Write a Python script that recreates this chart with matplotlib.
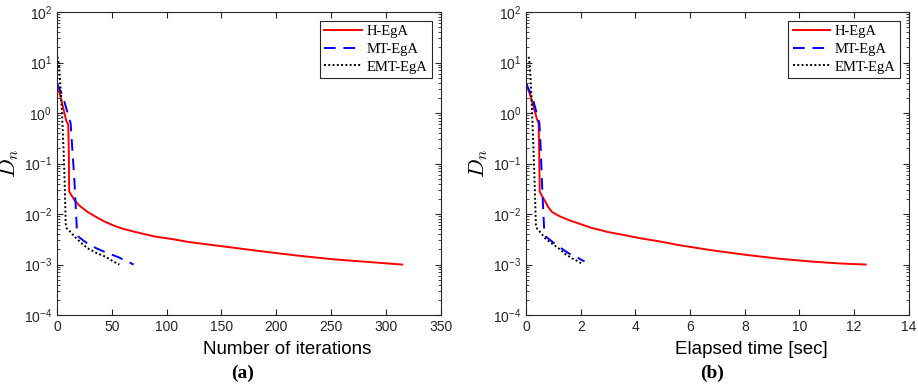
import numpy as np
import matplotlib.pyplot as plt
from matplotlib.ticker import LogLocator, NullFormatter

plt.rcParams['font.family'] = ['Liberation Sans', 'DejaVu Sans']
plt.rcParams['mathtext.fontset'] = 'cm'

# (a) convergence vs iterations
it_h = [0, 3, 6, 8.5, 10.3, 10.8, 11.2, 13, 16, 20, 28, 36, 44, 52, 59, 70, 89, 105, 120, 144, 165, 191, 220, 252, 285, 315]
dn_h = [3.9, 2.2, 1.2, 0.7, 0.6, 0.2, 0.028, 0.024, 0.019, 0.015, 0.011, 0.0087, 0.007, 0.0059, 0.0052, 0.0045, 0.0036, 0.0032, 0.0028, 0.0024, 0.0021, 0.00178, 0.0015, 0.00127, 0.00112, 0.001]
it_mt = [0, 5.5, 12.5, 14, 16, 17.6, 18.3, 19.5, 24, 28, 36, 43, 56, 70]
dn_mt = [3.9, 2.1, 0.63, 0.2, 0.045, 0.009, 0.0045, 0.0036, 0.003, 0.0026, 0.0021, 0.0018, 0.0014, 0.001]
it_emt = [0.5, 1.5, 3, 4.5, 6, 7, 8, 9, 12, 16, 22, 28, 36, 44, 50, 57]
dn_emt = [13, 10, 4, 1.2, 0.2, 0.047, 0.0065, 0.0052, 0.0045, 0.0036, 0.0027, 0.0021, 0.0017, 0.00144, 0.0012, 0.001]

# (b) convergence vs elapsed time
t_h = [0, 0.15, 0.3, 0.4, 0.46, 0.48, 0.5, 0.6, 0.71, 0.82, 0.95, 1.2, 1.56, 2.0, 2.41, 3.0, 3.63, 4.2, 4.84, 5.64, 6.85, 8.07, 9.29, 10.5, 11.5, 12.42]
dt_h = [3.9, 2.3, 1.2, 0.75, 0.63, 0.2, 0.028, 0.022, 0.0175, 0.0135, 0.011, 0.0092, 0.0076, 0.0063, 0.0053, 0.0044, 0.0038, 0.0033, 0.0029, 0.0024, 0.0019, 0.00155, 0.0013, 0.00114, 0.00105, 0.001]
t_mt = [0, 0.24, 0.49, 0.54, 0.58, 0.64, 0.67, 0.72, 0.9, 1.13, 1.56, 1.85, 2.14]
dt_mt = [3.9, 2.0, 0.63, 0.19, 0.047, 0.0088, 0.0045, 0.0036, 0.003, 0.0024, 0.00167, 0.0014, 0.00115]
t_emt = [0.1, 0.14, 0.2, 0.26, 0.31, 0.36, 0.4, 0.55, 0.7, 0.95, 1.19, 1.45, 1.68, 1.85, 2.05]
dt_emt = [13, 9, 2.0, 0.3, 0.05, 0.0062, 0.0052, 0.0042, 0.0033, 0.0026, 0.0021, 0.0016, 0.00133, 0.0012, 0.00104]

labels = ['H-EgA', 'MT-EgA', 'EMT-EgA']
edge = '#262626'

fig = plt.figure(figsize=(9.18, 3.88), dpi=100)
ax1 = fig.add_axes([0.062, 0.188, 0.418, 0.781])
ax2 = fig.add_axes([0.573, 0.188, 0.417, 0.781])

panels = [
    (ax1, it_h, dn_h, it_mt, dn_mt, it_emt, dn_emt, (0, 350), np.arange(0, 351, 50)),
    (ax2, t_h, dt_h, t_mt, dt_mt, t_emt, dt_emt, (0, 14), np.arange(0, 15, 2)),
]

for ax, xh, yh, xm, ym, xe, ye, xlim, xt in panels:
    ax.semilogy(xh, yh, color='red', lw=1.4, label=labels[0])
    ax.semilogy(xm, ym, color='blue', lw=1.4, ls=(0, (6, 4)), label=labels[1])
    ax.semilogy(xe, ye, color='black', lw=1.4, ls=(0, (1, 1.2)), label=labels[2])
    ax.set_xlim(*xlim)
    ax.set_ylim(1e-4, 1e2)
    ax.set_xticks(xt)
    ax.yaxis.set_major_locator(LogLocator(base=10, numticks=10))
    ax.yaxis.set_minor_locator(LogLocator(base=10, subs=np.arange(2, 10), numticks=10))
    ax.yaxis.set_minor_formatter(NullFormatter())
    ax.tick_params(which='both', direction='in', top=True, right=True, colors=edge, labelsize=10)
    ax.tick_params(which='major', length=4)
    ax.tick_params(which='minor', length=2)
    for s in ax.spines.values():
        s.set_color(edge)
        s.set_linewidth(0.8)
    ax.set_ylabel('$D_n$', fontsize=16, labelpad=2)
    leg = ax.legend(loc='upper right', prop={'family': 'Liberation Serif', 'size': 10.5},
                    fancybox=False, framealpha=1, edgecolor=edge, handlelength=2.6,
                    borderaxespad=0.6, labelspacing=0.3, handletextpad=0.3, borderpad=0.3)
    leg.get_frame().set_linewidth(0.8)

fig.text(287 / 918, 1 - 350 / 388, 'Number of iterations', fontsize=13.5, ha='center', va='center')
fig.text(243 / 918, 1 - 373 / 388, '(a)', fontsize=14, fontweight='bold',
         family='Liberation Serif', ha='center', va='center')
fig.text(751 / 918, 1 - 350 / 388, 'Elapsed time [sec]', fontsize=13.5, ha='center', va='center')
fig.text(712 / 918, 1 - 373 / 388, '(b)', fontsize=14, fontweight='bold',
         family='Liberation Serif', ha='center', va='center')

fig.savefig('out.png', dpi=100)
